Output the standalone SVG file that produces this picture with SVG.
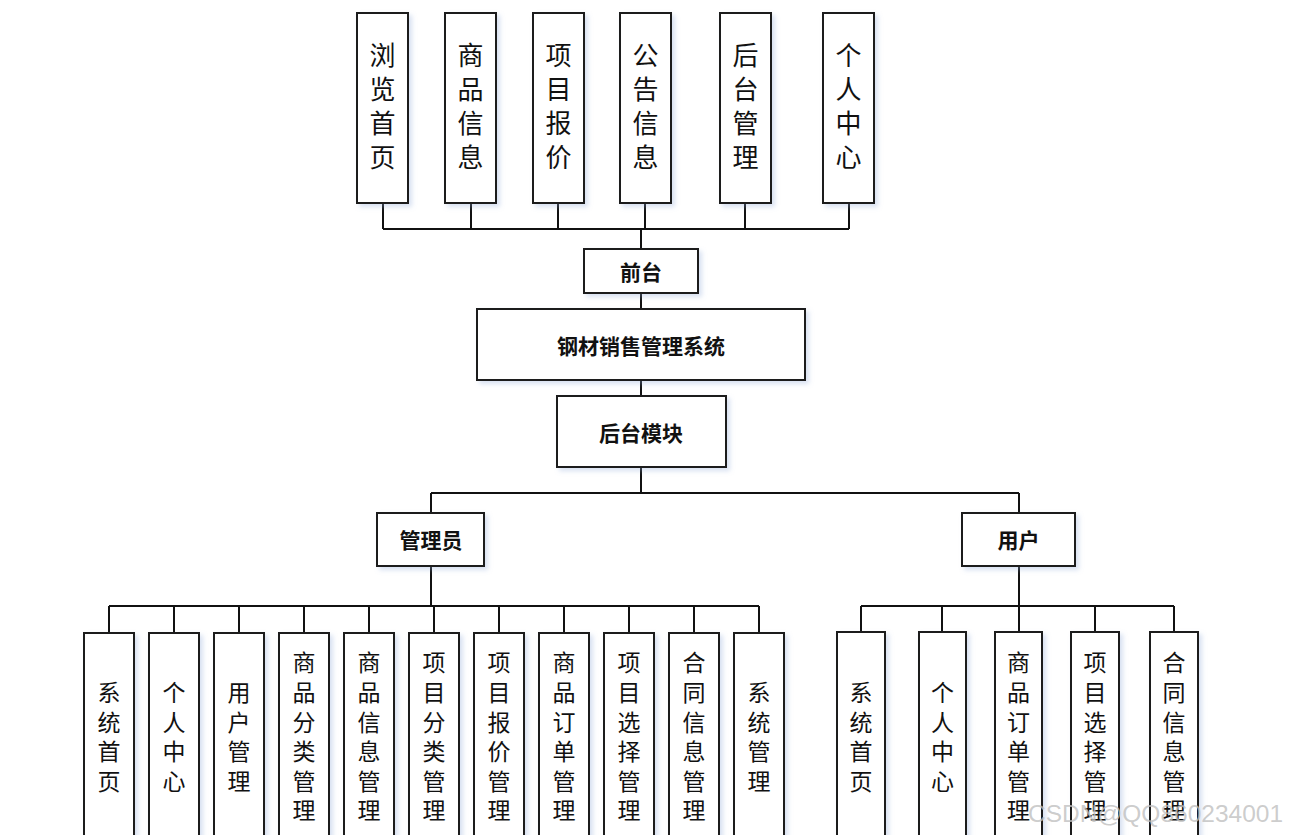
<svg xmlns="http://www.w3.org/2000/svg" width="1289" height="835" viewBox="0 0 1289 835">
<defs>
<filter id="sh" x="-20%" y="-20%" width="150%" height="150%">
<feDropShadow dx="3" dy="3" stdDeviation="2.5" flood-color="#8fa8d8" flood-opacity="0.35"/>
</filter>
<style>
.box{fill:#ffffff;stroke:#1a1a1a;stroke-width:2;filter:url(#sh)}
.ln{fill:none;stroke:#111111;stroke-width:2}
.vt{font-family:"Noto Sans CJK SC","Noto Sans CJK JP",sans-serif;fill:#111;text-anchor:middle;writing-mode:vertical-rl}
.t26{font-size:26px;letter-spacing:8px}
.t23{font-size:23px;letter-spacing:6.6px}
.ht{font-family:"Noto Sans CJK SC","Noto Sans CJK JP",sans-serif;font-size:21px;font-weight:bold;fill:#111;text-anchor:middle;dominant-baseline:central}
.wm{font-family:"Liberation Sans",Arial,sans-serif;font-size:24.5px;fill:#bfbfbf;fill-opacity:0.8}
</style>
</defs>
<rect width="1289" height="835" fill="#ffffff"/>

<g id="connectors">
<path class="ln" d="M383,203V229M471,203V229M558,203V229M645,203V229M745,203V229M849,203V229M383,229H849"/>
<path class="ln" d="M641,229V249" stroke-width="3"/>
<path class="ln" d="M641,293V309M641,380V396M641,467V493M431,493H1019M431,493V513M1019,493V513"/>
<path class="ln" d="M431,566V606" stroke-width="3"/>
<path class="ln" d="M109,606H759M109,606V633M174,606V633M239,606V633M304,606V633M369,606V633M434,606V633M499,606V633M564,606V633M629,606V633M694,606V633M759,606V633"/>
<path class="ln" d="M1019,566V606" stroke-width="3"/>
<path class="ln" d="M861,606H1174M861,606V632M942,606V632M1019,606V632M1095,606V632M1174,606V632"/>
</g>

<g id="n-top1"><rect class="box" x="357" y="13" width="51" height="190"/><text class="vt t26" x="382.5" y="110">浏览首页</text></g>
<g id="n-top2"><rect class="box" x="445" y="13" width="51" height="190"/><text class="vt t26" x="470.5" y="110">商品信息</text></g>
<g id="n-top3"><rect class="box" x="533" y="13" width="51" height="190"/><text class="vt t26" x="558.5" y="110">项目报价</text></g>
<g id="n-top4"><rect class="box" x="620" y="13" width="51" height="190"/><text class="vt t26" x="645.5" y="110">公告信息</text></g>
<g id="n-top5"><rect class="box" x="720" y="13" width="51" height="190"/><text class="vt t26" x="745.5" y="110">后台管理</text></g>
<g id="n-top6"><rect class="box" x="823" y="13" width="51" height="190"/><text class="vt t26" x="848.5" y="110">个人中心</text></g>

<g id="n-qiantai"><rect class="box" x="584" y="249" width="114" height="44"/><text class="ht" x="641" y="271">前台</text></g>
<g id="n-system"><rect class="box" x="477" y="309" width="328" height="71"/><text class="ht" x="641" y="345">钢材销售管理系统</text></g>
<g id="n-houtai"><rect class="box" x="557" y="396" width="169" height="71"/><text class="ht" x="641" y="432">后台模块</text></g>
<g id="n-admin"><rect class="box" x="377" y="513" width="107" height="53"/><text class="ht" x="431" y="539">管理员</text></g>
<g id="n-user"><rect class="box" x="962" y="513" width="113" height="53"/><text class="ht" x="1018.5" y="539">用户</text></g>

<g id="a1"><rect class="box" x="84" y="633" width="50" height="210"/><text class="vt t23" x="109" y="740">系统首页</text></g>
<g id="a2"><rect class="box" x="149" y="633" width="50" height="210"/><text class="vt t23" x="174" y="740">个人中心</text></g>
<g id="a3"><rect class="box" x="214" y="633" width="50" height="210"/><text class="vt t23" x="239" y="740">用户管理</text></g>
<g id="a4"><rect class="box" x="279" y="633" width="50" height="210"/><text class="vt t23" x="304" y="740">商品分类管理</text></g>
<g id="a5"><rect class="box" x="344" y="633" width="50" height="210"/><text class="vt t23" x="369" y="740">商品信息管理</text></g>
<g id="a6"><rect class="box" x="409" y="633" width="50" height="210"/><text class="vt t23" x="434" y="740">项目分类管理</text></g>
<g id="a7"><rect class="box" x="474" y="633" width="50" height="210"/><text class="vt t23" x="499" y="740">项目报价管理</text></g>
<g id="a8"><rect class="box" x="539" y="633" width="50" height="210"/><text class="vt t23" x="564" y="740">商品订单管理</text></g>
<g id="a9"><rect class="box" x="604" y="633" width="50" height="210"/><text class="vt t23" x="629" y="740">项目选择管理</text></g>
<g id="a10"><rect class="box" x="669" y="633" width="50" height="210"/><text class="vt t23" x="694" y="740">合同信息管理</text></g>
<g id="a11"><rect class="box" x="734" y="633" width="50" height="210"/><text class="vt t23" x="759" y="740">系统管理</text></g>

<g id="u1"><rect class="box" x="837" y="632" width="48" height="211"/><text class="vt t23" x="861" y="740">系统首页</text></g>
<g id="u2"><rect class="box" x="919" y="632" width="47" height="211"/><text class="vt t23" x="942.5" y="740">个人中心</text></g>
<g id="u3"><rect class="box" x="995" y="632" width="47" height="211"/><text class="vt t23" x="1018.5" y="740">商品订单管理</text></g>
<g id="u4"><rect class="box" x="1071" y="632" width="48" height="211"/><text class="vt t23" x="1095" y="740">项目选择管理</text></g>
<g id="u5"><rect class="box" x="1150" y="632" width="48" height="211"/><text class="vt t23" x="1174" y="740">合同信息管理</text></g>

<text class="wm" x="1028" y="822">CSDN@QQ860234001</text>
</svg>
